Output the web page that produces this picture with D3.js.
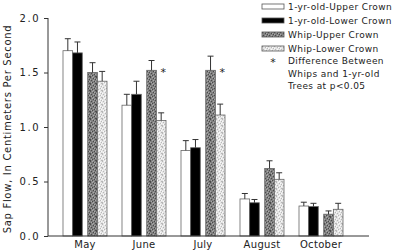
<!DOCTYPE html>
<html>
<head>
<meta charset="utf-8">
<script src="https://cdn.jsdelivr.net/npm/d3@7"></script>
<style>
  body { margin: 0; background: #fff; }
  svg text { font-family: "DejaVu Sans", sans-serif; fill: #222; }
</style>
</head>
<body>
<svg id="chart"></svg>
<script>
// data
const months = ["May", "June", "July", "August", "October"];
const series = ["1-yr-old-Upper Crown", "1-yr-old-Lower Crown", "Whip-Upper Crown", "Whip-Lower Crown"];
const upperYr = [1.70, 1.20, 0.785, 0.34, 0.275];
const lowerYr = [1.68, 1.30, 0.81, 0.305, 0.27];
const upperWhip = [1.50, 1.52, 1.52, 0.62, 0.20];
const lowerWhip = [1.42, 1.06, 1.11, 0.52, 0.245];
const errUpperYr = [0.11, 0.10, 0.09, 0.05, 0.035];
const errLowerYr = [0.10, 0.12, 0.075, 0.03, 0.03];
const errUpperWhip = [0.09, 0.09, 0.13, 0.07, 0.03];
const errLowerWhip = [0.09, 0.07, 0.10, 0.06, 0.055];
const significant = [false, true, true, false, false];
const yTicks = [0, 0.5, 1.0, 1.5, 2.0];
const noteLines = ["Difference Between", "Whips and 1-yr-old", "Trees at p<0.05"];

const width = 400, height = 252;
const svg = d3.select("#chart").attr("width", width).attr("height", height);

const values = [upperYr, lowerYr, upperWhip, lowerWhip];
const errs = [errUpperYr, errLowerYr, errUpperWhip, errLowerWhip];
const rows = [];
months.forEach((m, i) => {
    series.forEach((s, j) => {
        rows.push({ month: m, series: s, value: values[j][i], err: errs[j][i] });
    });
});

// patterns for the whip bars
const defs = svg.append("defs");
function stipple(id, base, dark, light) {
    const p = defs.append("pattern").attr("id", id)
        .attr("patternUnits", "userSpaceOnUse").attr("width", 6).attr("height", 7);
    p.append("rect").attr("width", 6).attr("height", 7).attr("fill", base);
    const darkDots = [[0, 0], [3, 1], [1, 3], [5, 2], [2, 5], [4, 4], [0, 6], [5, 6]];
    const lightDots = [[2, 0], [4, 1], [0, 2], [3, 3], [5, 4], [1, 5], [3, 6]];
    darkDots.forEach(d => p.append("rect").attr("x", d[0]).attr("y", d[1]).attr("width", 1).attr("height", 1).attr("fill", dark));
    lightDots.forEach(d => p.append("rect").attr("x", d[0]).attr("y", d[1]).attr("width", 1).attr("height", 1).attr("fill", light));
}
stipple("whipUp", "#808080", "#4a4a4a", "#aaa");
stipple("whipLow", "#e4e4e4", "#b8b8b8", "#fafafa");

const fills = d3.scaleOrdinal(series, ["#fff", "#000", "url(#whipUp)", "url(#whipLow)"]);

// scales
const x = d3.scaleBand().domain(months).range([55.5, 350.5]);
const pair = d3.scaleBand().domain(["yr", "whip"]).range([7.5, 51.5]).paddingInner(0.22);
const half = d3.scaleBand().domain([0, 1]).range([0, pair.bandwidth()]);
const y = d3.scaleLinear().domain([0, 2]).range([236, 18]);

function barX(d) {
    const j = series.indexOf(d.series);
    return x(d.month) + pair(j < 2 ? "yr" : "whip") + half(j % 2);
}

// bars
svg.selectAll(".bar")
    .data(rows)
    .enter()
    .append("rect")
    .attr("class", "bar")
    .attr("x", d => barX(d))
    .attr("width", half.bandwidth())
    .attr("y", d => y(d.value))
    .attr("height", d => y(0) - y(d.value))
    .attr("fill", d => fills(d.series))
    .attr("stroke", "#666")
    .attr("stroke-width", 0.8);

// error bars (upper whisker only)
const eb = svg.selectAll(".err").data(rows).enter().append("g").attr("class", "err")
    .attr("stroke", "#333").attr("stroke-width", 1);
eb.append("line")
    .attr("x1", d => barX(d) + half.bandwidth() / 2)
    .attr("x2", d => barX(d) + half.bandwidth() / 2)
    .attr("y1", d => y(d.value))
    .attr("y2", d => y(d.value + d.err));
eb.append("line")
    .attr("x1", d => barX(d) + half.bandwidth() / 2 - 3)
    .attr("x2", d => barX(d) + half.bandwidth() / 2 + 3)
    .attr("y1", d => y(d.value + d.err))
    .attr("y2", d => y(d.value + d.err));

// significance stars
svg.selectAll(".star")
    .data(months.filter((m, i) => significant[i]))
    .enter()
    .append("text")
    .attr("class", "star")
    .attr("x", m => x(m) + pair("whip") + half(1) + half.bandwidth() / 2 + 2)
    .attr("y", m => y(upperWhip[months.indexOf(m)]) + 6)
    .attr("text-anchor", "middle")
    .attr("font-size", 11)
    .text("*");

// axes
const yAxis = d3.axisLeft(y).tickValues(yTicks).tickFormat(d3.format(".1f")).tickSize(4).tickPadding(4);
const gy = svg.append("g").attr("transform", "translate(48,0)").call(yAxis);
gy.select(".domain").attr("stroke", "#333").attr("d", `M-0,${y(2)}H0V${y(0)}`);
gy.selectAll(".tick line").attr("stroke", "#333");
gy.selectAll(".tick text").attr("font-size", 10).attr("letter-spacing", 1.5)
    .attr("font-family", "DejaVu Sans").attr("fill", "#222");

svg.append("line")
    .attr("x1", 48).attr("x2", 369)
    .attr("y1", y(0)).attr("y2", y(0))
    .attr("stroke", "#333");

const xAxis = d3.axisBottom(x).tickSize(0).tickPadding(5);
const gx = svg.append("g").attr("transform", `translate(0,${y(0)})`).call(xAxis);
gx.select(".domain").remove();
gx.selectAll(".tick text").attr("font-size", 10).attr("letter-spacing", 0.3)
    .attr("font-family", "DejaVu Sans").attr("fill", "#222");

// y label
svg.append("text")
    .attr("transform", `translate(11,${(y(0) + y(2)) / 2 + 2}) rotate(-90)`)
    .attr("text-anchor", "middle")
    .attr("font-size", 10)
    .attr("letter-spacing", 0.7)
    .text("Sap Flow, In Centimeters Per Second");

// legend
const legend = svg.append("g").attr("transform", "translate(262,0)");
const li = legend.selectAll(".li").data(series).enter().append("g")
    .attr("transform", (d, i) => `translate(0,${4 + i * 14})`);
li.append("rect")
    .attr("width", 22).attr("height", 5)
    .attr("fill", d => fills(d))
    .attr("stroke", "#555").attr("stroke-width", 0.8);
li.append("text")
    .attr("x", 26).attr("y", 6)
    .attr("font-size", 9)
    .attr("letter-spacing", 0.4)
    .text(d => d);

legend.append("text").attr("x", 11).attr("y", 66).attr("text-anchor", "middle")
    .attr("font-size", 11).text("*");
legend.selectAll(".note").data(noteLines).enter().append("text")
    .attr("x", 26).attr("y", (d, i) => 64 + i * 12.5)
    .attr("font-size", 9)
    .attr("letter-spacing", 0.4)
    .text(d => d);
</script>
</body>
</html>
